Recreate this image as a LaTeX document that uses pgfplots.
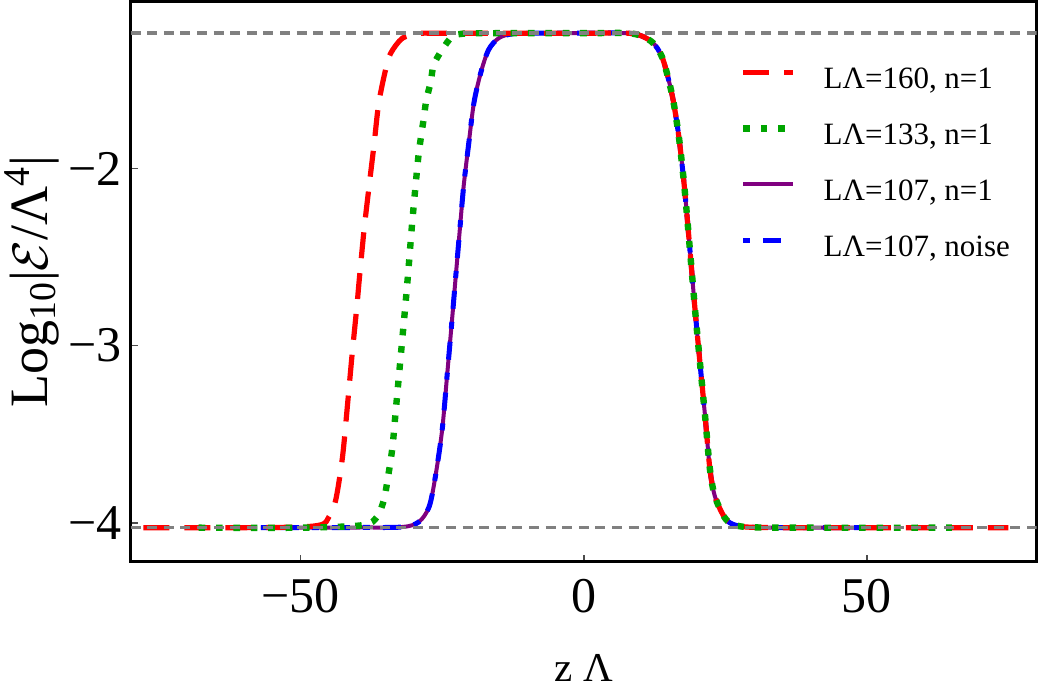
\documentclass[border=0pt]{standalone}
\usepackage{fontspec}
\setmainfont{Liberation Serif}
\usepackage{pgfplots}
\pgfplotsset{compat=1.18}
\usepackage{pgfplotstable}

\definecolor{cred}{RGB}{255,0,0}
\definecolor{cgreen}{RGB}{0,165,0}
\definecolor{cpurple}{RGB}{128,0,128}
\definecolor{cblue}{RGB}{0,0,255}
\definecolor{cgray}{RGB}{128,128,128}

\pgfplotstableread{
z y
-57 -4.028
-40 -4.027
-32 -4.024
-29.1 -3.995
-27.3 -3.91
-26.2 -3.741
-25.0 -3.477
-24.1 -3.16
-23.2 -2.835
-22.6 -2.61
-22.0 -2.39
-21.2 -2.10
-20.3 -1.858
-19.4 -1.632
-18.2 -1.462
-16.8 -1.33
-15.0 -1.264
-12.6 -1.240
-8 -1.236
0 -1.236
8.5 -1.238
12.0 -1.284
13.8 -1.368
15.0 -1.50
15.9 -1.632
16.8 -1.82
17.6 -2.046
18.2 -2.25
19.0 -2.55
19.7 -2.81
20.6 -3.12
21.5 -3.42
22.3 -3.70
23.2 -3.854
25.0 -3.976
26.8 -4.014
30 -4.026
40 -4.028
50 -4.028
}\tabA

\pgfplotstableread{
z y
-68 -4.028
-50 -4.028
-39.1 -4.014
-36.5 -3.967
-35.3 -3.873
-34.7 -3.77
-33.8 -3.58
-33.2 -3.37
-32.6 -3.16
-32.0 -2.95
-31.4 -2.74
-30.9 -2.55
-30.3 -2.31
-29.7 -2.10
-29.1 -1.905
-28.2 -1.707
-27.8 -1.613
-27.0 -1.51
-26.5 -1.415
-25.0 -1.33
-23.2 -1.255
-20.9 -1.238
-15 -1.236
0 -1.236
8.5 -1.238
12.0 -1.284
13.8 -1.368
15.0 -1.50
15.9 -1.632
16.8 -1.82
17.6 -2.046
18.2 -2.25
19.0 -2.55
19.7 -2.81
20.6 -3.12
21.5 -3.42
22.3 -3.70
23.2 -3.854
25.0 -3.976
26.8 -4.014
30 -4.026
40 -4.028
65 -4.028
}\tabB

\pgfplotstableread{
z y
-85 -4.028
-55 -4.027
-46.7 -4.014
-45.0 -3.967
-43.8 -3.873
-42.6 -3.63
-41.7 -3.33
-40.9 -3.05
-40.0 -2.76
-39.7 -2.65
-38.8 -2.35
-37.9 -2.10
-37.0 -1.858
-36.2 -1.632
-35.0 -1.444
-34.1 -1.35
-32.0 -1.264
-29.1 -1.238
-25 -1.236
0 -1.236
8.5 -1.238
12.0 -1.284
13.8 -1.368
15.0 -1.50
15.9 -1.632
16.8 -1.82
17.6 -2.046
18.2 -2.25
19.0 -2.55
19.7 -2.81
20.6 -3.12
21.5 -3.42
22.3 -3.70
23.2 -3.854
25.0 -3.976
26.8 -4.014
30 -4.026
40 -4.028
75 -4.028
}\tabC

\tikzset{
  sred/.style={cred, line width=2.6pt, dash pattern=on 13pt off 7.5pt},
  sgreen/.style={cgreen, line width=3.2pt, dash pattern=on 3.3pt off 5.4pt},
  spurple/.style={cpurple, line width=2pt, solid},
  sblue/.style={cblue, line width=2.5pt, dash pattern=on 3.5pt off 6.5pt on 9pt off 6.5pt},
}

\begin{document}
\begin{tikzpicture}
\begin{axis}[
  scale only axis, width=453pt, height=280.1pt,
  xmin=-80, xmax=80, ymin=-4.22, ymax=-1.057,
  axis line style={line width=1.5pt, black},
  xtick={-50,0,50}, xticklabels={\textrm{−50},\textrm{0},\textrm{50}},
  ytick={-4,-3,-2}, yticklabels={\textrm{−4},\textrm{−3},\textrm{−2}},
  tick align=inside, xtick pos=bottom, ytick pos=left,
  major tick length=3.5pt,
  tick style={color=gray!60!black, line width=0.8pt},
  xticklabel style={font=\fontsize{25}{25}\selectfont, anchor=base, inner sep=0pt, yshift=-25.65pt},
  yticklabel style={font=\fontsize{25}{25}\selectfont, anchor=east, inner sep=0pt, xshift=-4.35pt},
  every axis x label/.style={at={(axis description cs:0.5,-0.2142)}, anchor=base, inner sep=0pt, font=\fontsize{20.5}{20.5}\selectfont},
  every axis y label/.style={at={(axis description cs:-0.0913,0.5)}, rotate=90, anchor=base, inner sep=0pt, font=\fontsize{27}{27}\selectfont},
  xlabel={z Λ},
  ylabel={Log\textsubscript{10}|$\mathcal{E}$/Λ\textsuperscript{4}|},
  legend cell align=left,
  legend style={at={(axis description cs:0.6723,0.9099)}, anchor=north west, draw=none, fill=none, inner sep=0pt, row sep=8pt, column sep=13.5pt, font=\fontsize{15.5}{15.5}\selectfont, nodes={inner sep=0pt, text height=18pt, text depth=2pt}},
  legend image code/.code={\draw[#1] (0pt,0pt) -- (25pt,0pt);},
]
\addlegendimage{sred}
\addlegendentry{LΛ=160, n=1}
\addlegendimage{sgreen}
\addlegendentry{LΛ=133, n=1}
\addlegendimage{spurple}
\addlegendentry{LΛ=107, n=1}
\addlegendimage{sblue}
\addlegendentry{LΛ=107, noise}

\addplot[spurple, smooth, tension=0.5, forget plot] table[x=z, y=y] {\tabA};
\addplot[sblue, smooth, tension=0.5, forget plot] table[x=z, y=y] {\tabA};
\addplot[sred, smooth, tension=0.5, forget plot] table[x=z, y=y] {\tabC};
\addplot[sgreen, smooth, tension=0.5, forget plot] table[x=z, y=y] {\tabB};

\addplot[cgray, line width=1.8pt, dash pattern=on 5pt off 3.3pt, forget plot] coordinates {(-80,-1.236) (80,-1.236)};
\addplot[cgray, line width=1.8pt, dash pattern=on 5pt off 3.3pt, forget plot] coordinates {(-80,-4.028) (80,-4.028)};
\end{axis}
\pgfresetboundingbox
\path[use as bounding box] ([shift={(-65.35pt,-67.15pt)}]current axis.south west) rectangle ([shift={(2.65pt,0.75pt)}]current axis.north east);
\end{tikzpicture}
\end{document}
